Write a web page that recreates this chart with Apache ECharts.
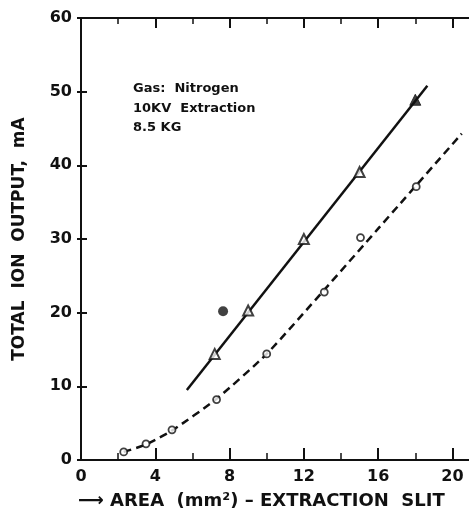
<!DOCTYPE html>
<html>
<head>
<meta charset="utf-8">
<script src="https://cdn.jsdelivr.net/npm/echarts@6/dist/echarts.min.js"></script>
<style>
  html, body { margin: 0; padding: 0; background: #fff; }
  #chart { width: 469px; height: 512px; }
</style>
</head>
<body>
<div id="chart"></div>
<script>
// open triangles on the solid line
const triX = [7.2, 9.0, 12.0, 15.0]
const triY = [14.4, 20.3, 30.0, 39.1]
// filled triangle
const filledTriX = [18.0]
const filledTriY = [48.9]
// filled circle
const dotX = [7.65]
const dotY = [20.2]
// open circles on the dashed curve
const circX = [2.3, 3.5, 4.9, 7.3, 10.0, 13.1, 15.05, 18.05]
const circY = [1.1, 2.2, 4.1, 8.2, 14.4, 22.8, 30.2, 37.1]
// solid fit line
const solidX = [5.7, 18.65]
const solidY = [9.5, 50.8]
// dashed fit curve
const dashX = [2.3, 3.5, 4.9, 7.3, 10.0, 13.1, 16.0, 20.5]
const dashY = [1.1, 2.1, 4.0, 8.3, 14.4, 23.1, 31.4, 44.3]

const yTicks = [0, 10, 20, 30, 40, 50, 60]
const xLabels = [0, 4, 8, 12, 16, 20]

const zip = (xs, ys) => xs.map((x, i) => [x, ys[i]])
const font = 'DejaVu Sans'
const ink = '#111'

const chart = echarts.init(document.getElementById('chart'))

const xBase = {
    type: 'value', min: 0, max: 21, gridIndex: 0,
    splitLine: { show: false }
}

const option = {
    animation: false,
    backgroundColor: '#fff',
    grid: { left: 81, right: -2, top: 18, bottom: 52, outerBoundsMode: 'none', containLabel: false },
    xAxis: [
        Object.assign({}, xBase, {
            position: 'bottom', interval: 4,
            axisLine: { show: true, lineStyle: { color: ink, width: 2 } },
            axisTick: { show: true, inside: true, length: 12, lineStyle: { color: ink, width: 2 } },
            axisLabel: {
                color: ink, fontFamily: font, fontWeight: 'bold', fontSize: 16, margin: 9,
                formatter: v => xLabels.includes(v) ? String(v) : ''
            }
        }),
        Object.assign({}, xBase, {
            position: 'bottom', interval: 2,
            axisLine: { show: false },
            axisTick: { show: true, inside: true, length: 7, lineStyle: { color: ink, width: 1.5 } },
            axisLabel: { show: false }
        }),
        Object.assign({}, xBase, {
            position: 'top', interval: 4,
            axisLine: { show: true, lineStyle: { color: ink, width: 2 } },
            axisTick: { show: true, inside: true, length: 10, lineStyle: { color: ink, width: 2 } },
            axisLabel: { show: false }
        }),
        Object.assign({}, xBase, {
            position: 'top', interval: 2,
            axisLine: { show: false },
            axisTick: { show: true, inside: true, length: 6, lineStyle: { color: ink, width: 1.5 } },
            axisLabel: { show: false }
        })
    ],
    yAxis: [
        {
            type: 'value', min: 0, max: 60, interval: 10, position: 'left',
            name: 'TOTAL  ION  OUTPUT,  mA',
            nameLocation: 'middle', nameGap: 53, nameRotate: 90,
            nameTextStyle: { color: ink, fontFamily: font, fontWeight: 'bold', fontSize: 17 },
            splitLine: { show: false },
            axisLine: { show: true, lineStyle: { color: ink, width: 2 } },
            axisTick: { show: true, inside: true, length: 6, lineStyle: { color: ink, width: 2 } },
            axisLabel: {
                color: ink, fontFamily: font, fontWeight: 'bold', fontSize: 16, margin: 9,
                formatter: v => yTicks.includes(v) ? String(v) : ''
            }
        },
        {
            type: 'value', min: 0, max: 60, interval: 10, position: 'right',
            splitLine: { show: false },
            axisLine: { show: false },
            axisTick: { show: true, inside: true, length: 4, lineStyle: { color: ink, width: 2 } },
            axisLabel: { show: false }
        }
    ],
    graphic: [
        {
            type: 'text', left: 133, top: 79,
            style: {
                text: 'Gas:  Nitrogen\n10KV  Extraction\n8.5 KG',
                font: 'bold 13px "DejaVu Sans"', fill: ink, lineHeight: 19.5
            }
        },
        {
            type: 'text', left: 78, top: 492,
            style: {
                text: '⟶ AREA  (mm²) – EXTRACTION  SLIT',
                font: 'bold 18px "DejaVu Sans"', fill: ink
            }
        }
    ],
    series: [
        {
            type: 'line', data: zip(solidX, solidY), showSymbol: false,
            lineStyle: { color: ink, width: 2.5 }, z: 2
        },
        {
            type: 'line', data: zip(dashX, dashY), showSymbol: false, smooth: 0.2,
            lineStyle: { color: ink, width: 2.5, type: [8, 5] }, z: 2
        },
        {
            type: 'scatter', data: zip(triX, triY), symbol: 'triangle', symbolSize: 10,
            itemStyle: { color: '#fff', borderColor: ink, borderWidth: 2 }, z: 3
        },
        {
            type: 'scatter', data: zip(filledTriX, filledTriY), symbol: 'triangle', symbolSize: 11,
            itemStyle: { color: ink, borderColor: ink, borderWidth: 1 }, z: 3
        },
        {
            type: 'scatter', data: zip(dotX, dotY), symbol: 'circle', symbolSize: 10,
            itemStyle: { color: ink }, z: 3
        },
        {
            type: 'scatter', data: zip(circX, circY), symbol: 'circle', symbolSize: 7,
            itemStyle: { color: '#fff', borderColor: ink, borderWidth: 1.8 }, z: 3
        }
    ]
}

chart.setOption(option)
</script>
</body>
</html>
